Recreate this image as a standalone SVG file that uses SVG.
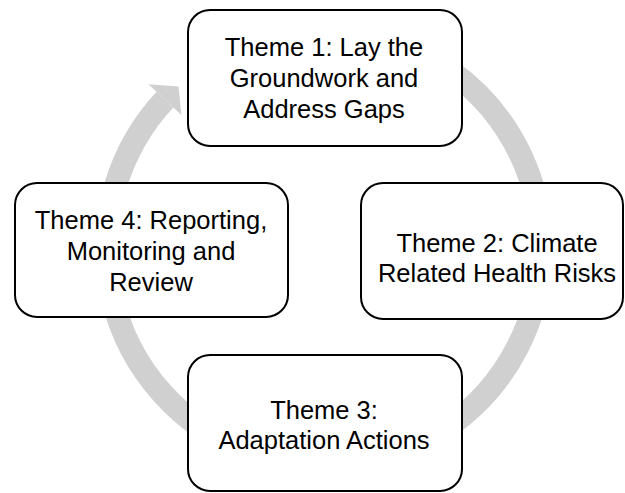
<svg xmlns="http://www.w3.org/2000/svg" width="625" height="493" viewBox="0 0 625 493">
<style>
.box{fill:#fff;stroke:#000;stroke-width:2}
.t{font-family:"Liberation Sans",Arial,sans-serif;font-size:25.5px;fill:#000;text-anchor:middle}
.ring{fill:none;stroke:#D0D0D0;stroke-width:23}
</style>
<rect width="625" height="493" fill="#fff"/>
<g id="connectors">
<path class="ring" d="M249.6,43.6 A217.5,217.5 0 1 1 164.9,99.7"/>
<polygon points="148.5,84.3 178.5,86.4 181.4,115" fill="#D0D0D0"/>
</g>
<g id="theme1">
<rect class="box" x="188" y="10" width="274" height="136" rx="22"/>
<text class="t" x="324" y="56">Theme 1: Lay the</text>
<text class="t" x="324" y="87">Groundwork and</text>
<text class="t" x="324" y="118">Address Gaps</text>
</g>
<g id="theme2">
<rect class="box" x="361" y="183" width="262" height="136" rx="22"/>
<text class="t" x="497" y="252">Theme 2: Climate</text>
<text class="t" x="497" y="282">Related Health Risks</text>
</g>
<g id="theme3">
<rect class="box" x="188" y="355" width="274" height="136" rx="22"/>
<text class="t" x="324" y="419">Theme 3:</text>
<text class="t" x="324" y="449">Adaptation Actions</text>
</g>
<g id="theme4">
<rect class="box" x="15" y="183" width="273" height="134" rx="22"/>
<text class="t" x="151" y="229">Theme 4: Reporting,</text>
<text class="t" x="151" y="260">Monitoring and</text>
<text class="t" x="151" y="291">Review</text>
</g>
</svg>
